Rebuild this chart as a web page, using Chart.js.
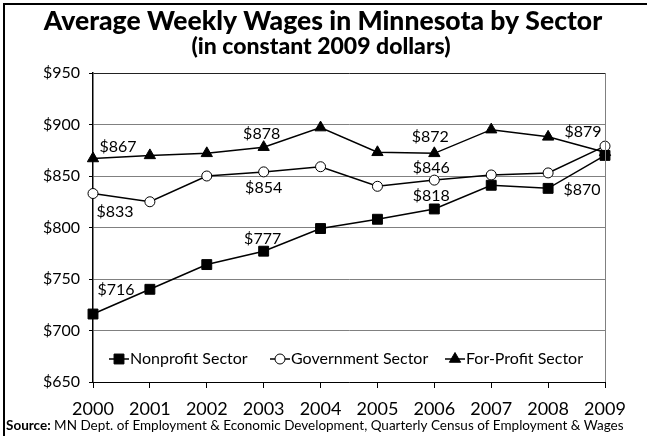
<!DOCTYPE html>
<html>
<head>
<meta charset="utf-8">
<script src="https://cdn.jsdelivr.net/npm/chart.js"></script>
<style>
  html, body { margin: 0; padding: 0; background: #fff; }
  #wrap { width: 647px; height: 436px; position: relative; }
</style>
</head>
<body>
<div id="wrap"><canvas id="wages"></canvas></div>
<script>
// data
const years = ['2000', '2001', '2002', '2003', '2004', '2005', '2006', '2007', '2008', '2009'];
const nonprofit = [716, 740, 764, 777, 799, 808, 818, 841, 838, 870];
const government = [833, 825, 850, 854, 859, 840, 846, 851, 853, 879];
const forProfit = [867, 870, 872, 878, 897, 873, 872, 895, 888, 873];
const seriesNames = ['Nonprofit Sector', 'Government Sector', 'For-Profit Sector'];

const titleText = 'Average Weekly Wages in Minnesota by Sector';
const subtitleText = '(in constant 2009 dollars)';
const sourceBold = 'Source:';
const sourceText = ' MN Dept. of Employment & Economic Development, Quarterly Census of Employment & Wages';

// which points get a value label: [dataset, index, dx, dy]
const valueLabels = [
    [2, 0, 25, -12], [1, 0, 22, 18], [0, 0, 23, -24],
    [2, 3, -2, -13], [1, 3, 0, 16], [0, 3, -1, -12],
    [2, 6, -4, -16], [1, 6, -3, -12], [0, 6, -3, -13],
    [1, 9, -22, -14], [0, 9, -23, 34]
];

const FONT = 'Lato';
const legendPos = [109, 270, 445];

const decorations = {
    id: 'decorations',
    beforeDraw(chart) {
        const ctx = chart.ctx;
        ctx.save();
        ctx.fillStyle = '#fff';
        ctx.fillRect(0, 0, chart.width, chart.height);
        // outer frame
        ctx.strokeStyle = '#000';
        ctx.lineWidth = 2;
        ctx.beginPath();
        ctx.moveTo(4, chart.height);
        ctx.lineTo(4, 4);
        ctx.lineTo(chart.width, 4);
        ctx.stroke();
        ctx.restore();
    },
    afterDraw(chart) {
        const ctx = chart.ctx;
        const area = chart.chartArea;
        ctx.save();
        // right border of plot
        ctx.strokeStyle = '#808080';
        ctx.lineWidth = 1;
        ctx.beginPath();
        ctx.moveTo(area.right + 0.5, area.top);
        ctx.lineTo(area.right + 0.5, area.bottom);
        ctx.stroke();

        // title
        ctx.fillStyle = '#000';
        ctx.textAlign = 'center';
        ctx.textBaseline = 'middle';
        ctx.font = `900 26.5px ${FONT}`;
        ctx.fillText(titleText, 323, 21);
        ctx.font = `900 23px ${FONT}`;
        ctx.fillText(subtitleText, 321, 47);

        // value labels
        ctx.font = `16px ${FONT}`;
        valueLabels.forEach(([ds, i, dx, dy]) => {
            const pt = chart.getDatasetMeta(ds).data[i];
            const v = chart.data.datasets[ds].data[i];
            ctx.fillText('$' + v, pt.x + dx, pt.y + dy);
        });

        // legend inside plot
        const ly = 359;
        ctx.textAlign = 'left';
        ctx.font = `16px ${FONT}`;
        chart.data.datasets.forEach((d, k) => {
            const x = legendPos[k];
            ctx.strokeStyle = '#000';
            ctx.lineWidth = 1.5;
            ctx.beginPath();
            ctx.moveTo(x, ly);
            ctx.lineTo(x + 20, ly);
            ctx.stroke();
            ctx.fillStyle = d.pointBackgroundColor;
            ctx.strokeStyle = '#000';
            ctx.lineWidth = 1;
            Chart.helpers.drawPoint(ctx, {pointStyle: d.pointStyle, radius: d.pointRadius, borderWidth: 1}, x + 10, ly);
            ctx.fillStyle = '#000';
            ctx.fillText(d.label, x + 21, ly);
        });

        // source line
        ctx.font = `bold 13.5px ${FONT}`;
        ctx.fillText(sourceBold, 6, 426);
        const w = ctx.measureText(sourceBold).width;
        ctx.font = `13.5px ${FONT}`;
        ctx.fillText(sourceText, 6 + w, 426);
        ctx.restore();
    }
};

function series(label, data, style, radius, fill) {
    return {
        label: label,
        data: data,
        borderColor: '#000',
        borderWidth: 1.5,
        pointStyle: style,
        pointRadius: radius,
        pointBackgroundColor: fill,
        pointBorderColor: '#000',
        pointBorderWidth: 1,
        tension: 0
    };
}

new Chart(document.getElementById('wages'), {
    type: 'line',
    data: {
        labels: years,
        datasets: [
            series(seriesNames[0], nonprofit, 'rect', 7, '#000'),
            series(seriesNames[1], government, 'circle', 5, '#fff'),
            series(seriesNames[2], forProfit, 'triangle', 6.5, '#000')
        ]
    },
    options: {
        responsive: true,
        maintainAspectRatio: false,
        animation: false,
        layout: { padding: { left: 0, right: 42, top: 73, bottom: 0 } },
        plugins: {
            legend: { display: false },
            tooltip: { enabled: false }
        },
        scales: {
            x: {
                type: 'category',
                offset: false,
                afterFit: s => { s.height = 54; },
                grid: { drawOnChartArea: false, drawTicks: true, tickLength: 6, color: '#000' },
                border: { color: '#000', width: 1 },
                ticks: { color: '#000', font: { family: FONT, size: 18 }, padding: 10, maxRotation: 0 }
            },
            y: {
                min: 650,
                max: 950,
                afterFit: s => { s.width = 93; },
                grid: {
                    color: c => (c.tick && c.tick.value === 950) ? '#222' : '#808080',
                    tickColor: '#000',
                    tickLength: 4
                },
                border: { color: '#000', width: 1.5 },
                ticks: {
                    stepSize: 50,
                    color: '#000',
                    padding: 9,
                    font: { family: FONT, size: 16 },
                    callback: v => '$' + v
                }
            }
        }
    },
    plugins: [decorations]
});
</script>
</body>
</html>
